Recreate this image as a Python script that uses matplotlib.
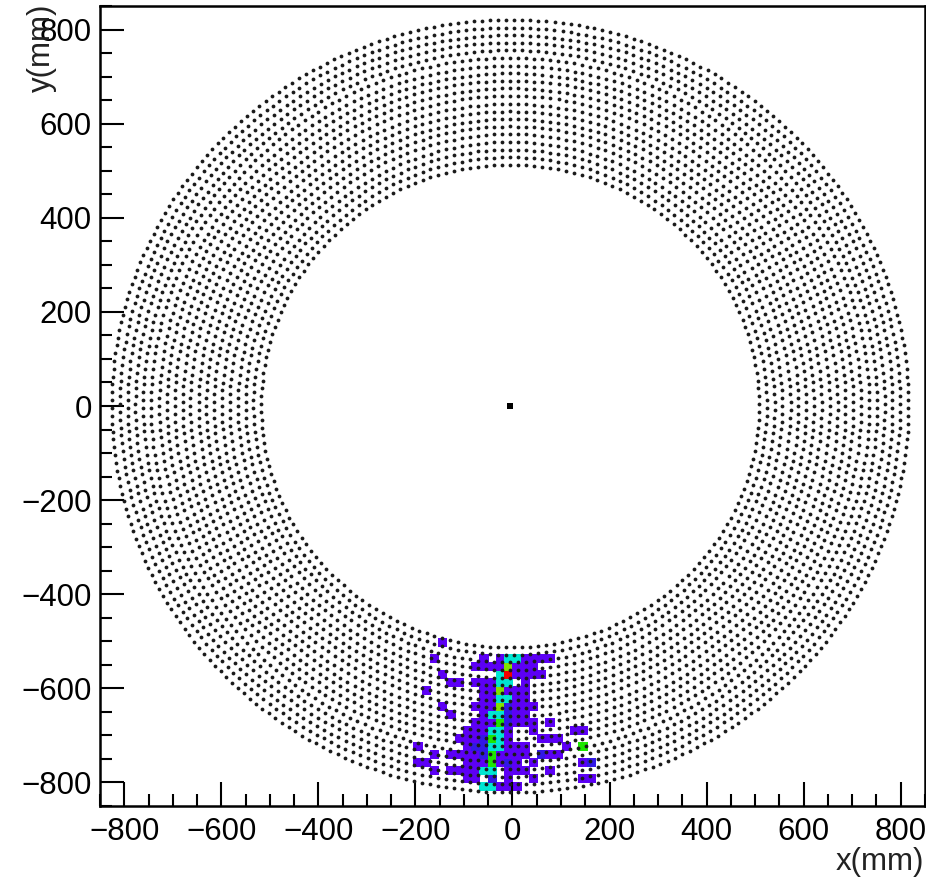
import numpy as np
import matplotlib
matplotlib.use('Agg')
import matplotlib.pyplot as plt
from matplotlib.colors import ListedColormap, BoundaryNorm

plt.rcParams['font.family'] = ['Liberation Sans', 'DejaVu Sans']

# detector rings: radius (mm), number of channels, half-step shift
ring_radius = [513, 529, 545, 561, 578, 594, 610, 626, 642, 659,
               675, 691, 707, 723, 740, 756, 772, 788, 804, 821]
ring_count = [193, 199, 206, 212, 218, 224, 230, 236, 242, 248,
              254, 260, 266, 272, 279, 285, 291, 297, 303, 309]
ring_shift = [0, 0, 0, 0, 0, 0, 0, 0, 0, 0,
              0, 0, 0, 0, 0, 1, 1, 1, 1, 1]
center_x = -5
center_y = 0

# hit cells: one row index per entry, then the columns and levels in that row
hit_rows = [-30, -32, -33, -34, -35, -36, -37, -38, -39, -40,
            -41, -42, -43, -44, -45, -46, -47, -48]
hit_cols = [
    [-9],
    [-10, -4, -2, -1, 0, 1, 2, 3, 4],
    [-5, -4, -3, -2, -1, 0, 1, 2],
    [-9, -2, -1, 0, 1, 2, 3],
    [-8, -7, -5, -4, -3, -2, -1, 1],
    [-11, -4, -3, -2, -1, 0, 1],
    [-4, -3, -2, -1, 0, 1],
    [-9, -5, -4, -3, -2, -1, 0, 1, 2],
    [-8, -4, -3, -2, -1, 0, 1],
    [-5, -4, -3, -2, -1, 0, 1, 2, 4],
    [-6, -5, -4, -3, -2, -1, 2, 7, 8],
    [-7, -6, -5, -4, -3, -2, -1, 3, 4, 5],
    [-12, -6, -5, -4, -3, -2, -1, 0, 1, 6, 8],
    [-10, -8, -7, -6, -5, -4, -3, -2, -1, 0, 1, 3, 4, 5],
    [-12, -11, -6, -5, -4, -3, -2, -1, 0, 2, 8, 9],
    [-10, -8, -7, -6, -5, -4, -3, -1, 0, 1, 4],
    [-6, -5, -3, -1, 2, 8, 9],
    [-4, -3, -2, -1, 0],
]
hit_vals = [
    [1],
    [1, 1, 1, 3, 3, 1, 1, 1, 1],
    [1, 1, 1, 1, 6, 1, 1, 1],
    [1, 3, 7, 1, 1, 1, 1],
    [1, 1, 1, 1, 1, 3, 3, 1],
    [1, 1, 1, 6, 1, 1, 1],
    [1, 1, 3, 3, 1, 1],
    [1, 1, 1, 1, 6, 2, 1, 1, 1],
    [1, 1, 3, 3, 2, 1, 1],
    [1, 1, 1, 5, 2, 1, 1, 1, 1],
    [1, 1, 1, 3, 3, 1, 1, 1, 1],
    [1, 1, 1, 2, 5, 3, 1, 1, 1, 1],
    [1, 1, 2, 2, 3, 3, 1, 1, 1, 1, 5],
    [1, 1, 1, 1, 1, 2, 5, 1, 1, 1, 1, 2, 1, 1],
    [1, 1, 1, 1, 1, 5, 1, 2, 1, 1, 1, 2],
    [1, 1, 1, 1, 1, 3, 3, 1, 1, 1, 1],
    [1, 1, 2, 1, 1, 1, 1],
    [3, 3, 1, 1, 1],
]
level_colors = ['#5c00f5', '#3218e6', '#00e6d2', '#00e68c', '#1ee600', '#82e100', '#f50000']

x_major = [-800, -600, -400, -200, 0, 200, 400, 600, 800]
y_major = [-800, -600, -400, -200, 0, 200, 400, 600, 800]

# 100 x 100 bins over +-850 mm
edges = np.linspace(-850, 850, 101)
grid = np.full((100, 100), np.nan)
for row, cols, vals in zip(hit_rows, hit_cols, hit_vals):
    for col, val in zip(cols, vals):
        grid[row + 50, col + 50] = val

fig = plt.figure(figsize=(9.26, 8.77), dpi=100)
ax = fig.add_axes([100 / 926, (877 - 806) / 877, 825 / 926, 800 / 877])

cmap = ListedColormap(level_colors)
norm = BoundaryNorm(np.arange(0.5, 8.5), cmap.N)
ax.pcolormesh(edges, edges, grid, cmap=cmap, norm=norm, edgecolors='face', linewidth=0.6, zorder=1)

# channel positions on each ring
xs = []
ys = []
for r, n, shift in zip(ring_radius, ring_count, ring_shift):
    step = 2 * np.pi / n
    ang = np.pi / 2 + (np.arange(n) + 0.5 * shift) * step
    xs.append(center_x + r * np.cos(ang))
    ys.append(center_y + r * np.sin(ang))
ax.scatter(np.concatenate(xs), np.concatenate(ys), s=7.5, c='#1a1a1a', marker='o',
           linewidths=0, zorder=2)
ax.scatter([center_x], [center_y], s=18, c='black', marker='s', linewidths=0, zorder=2)

ax.set_xlim(-850, 850)
ax.set_ylim(-850, 850)
ax.set_xticks(x_major)
ax.set_yticks(y_major)
ax.set_xticks(np.arange(-850, 851, 50), minor=True)
ax.set_yticks(np.arange(-850, 851, 50), minor=True)
ax.tick_params(which='major', direction='in', length=17, width=1.5, labelsize=22.5, pad=8)
ax.tick_params(axis='y', which='major', pad=6)
ax.tick_params(which='minor', direction='in', length=8.5, width=1.5)
for s in ax.spines.values():
    s.set_linewidth(1.8)

fig.text(924 / 926, 1 - 870 / 877, 'x(mm)', ha='right', va='baseline', fontsize=22.5, color='#222222')
fig.text(42 / 926, 1 - 4 / 877, 'y(mm)', ha='center', va='top', rotation=90, fontsize=22.5, color='#222222')

fig.savefig('out.png', dpi=100)
